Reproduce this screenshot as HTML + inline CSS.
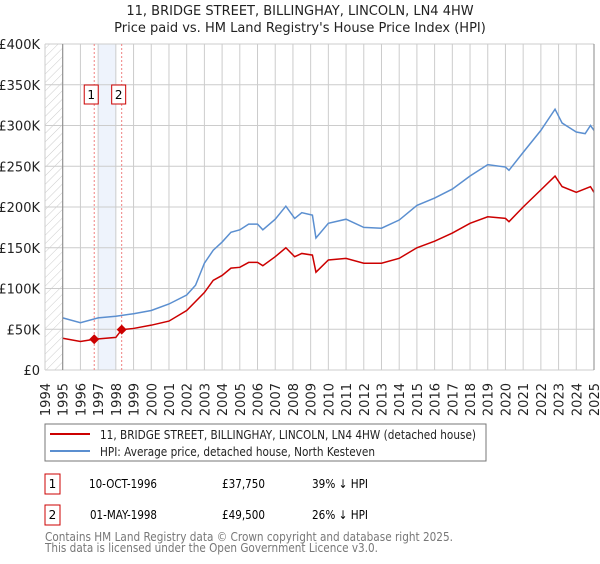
<!DOCTYPE html>
<html><head><meta charset="utf-8"><style>
body{margin:0;background:#fff;width:600px;height:560px;overflow:hidden;font-family:"DejaVu Sans","Liberation Sans",sans-serif}
svg text{font-family:"DejaVu Sans","Liberation Sans",sans-serif}
</style></head><body>
<svg id="c" width="600" height="560" xmlns="http://www.w3.org/2000/svg">
<defs><pattern id="hatch" width="6" height="6" patternUnits="userSpaceOnUse" patternTransform="rotate(45)"><line x1="0" y1="0" x2="0" y2="6" stroke="#ccc" stroke-width="1"/></pattern></defs>
<text x="300" y="15" text-anchor="middle" font-size="13" fill="#222">11, BRIDGE STREET, BILLINGHAY, LINCOLN, LN4 4HW</text>
<text x="300" y="32" text-anchor="middle" font-size="13" fill="#222">Price paid vs. HM Land Registry's House Price Index (HPI)</text>
<g id="grid"></g><g id="marks"></g><g id="axes"></g>
<rect x="45" y="424" width="441" height="37" fill="#fff" stroke="#777"/>
<line x1="50" y1="434" x2="90" y2="434" stroke="#cc0000" stroke-width="2"/>
<text x="100" y="439" font-size="12" textLength="376" lengthAdjust="spacingAndGlyphs" fill="#222">11, BRIDGE STREET, BILLINGHAY, LINCOLN, LN4 4HW (detached house)</text>
<line x1="50" y1="451" x2="90" y2="451" stroke="#5b8fd0" stroke-width="2"/>
<text x="100" y="456" font-size="12" textLength="275" lengthAdjust="spacingAndGlyphs" fill="#222">HPI: Average price, detached house, North Kesteven</text>
<rect x="45" y="474" width="15" height="20" fill="#fff" stroke="#cc0000"/>
<text x="52.5" y="488" text-anchor="middle" font-size="12">1</text>
<text x="89" y="488" font-size="12" textLength="68" lengthAdjust="spacingAndGlyphs">10-OCT-1996</text>
<text x="222" y="488" font-size="12" textLength="43" lengthAdjust="spacingAndGlyphs">£37,750</text>
<text x="312" y="488" font-size="12" textLength="56" lengthAdjust="spacingAndGlyphs">39% ↓ HPI</text>
<rect x="45" y="505" width="15" height="20" fill="#fff" stroke="#cc0000"/>
<text x="52.5" y="519" text-anchor="middle" font-size="12">2</text>
<text x="90" y="519" font-size="12" textLength="67" lengthAdjust="spacingAndGlyphs">01-MAY-1998</text>
<text x="222" y="519" font-size="12" textLength="43" lengthAdjust="spacingAndGlyphs">£49,500</text>
<text x="312" y="519" font-size="12" textLength="56" lengthAdjust="spacingAndGlyphs">26% ↓ HPI</text>
<text x="45" y="541" font-size="12" textLength="408" lengthAdjust="spacingAndGlyphs" fill="#777">Contains HM Land Registry data © Crown copyright and database right 2025.</text>
<text x="45" y="552" font-size="12" textLength="333" lengthAdjust="spacingAndGlyphs" fill="#777">This data is licensed under the Open Government Licence v3.0.</text>
</svg>
<script>
const hpiYears=[1995,1996,1997,1998,1999,2000,2001,2002,2002.5,2003,2003.5,2004,2004.5,2005,2005.5,2006,2006.3,2007,2007.6,2008.1,2008.5,2009.1,2009.3,2010,2011,2012,2013,2014,2015,2016,2017,2018,2019,2020,2020.2,2021,2022,2022.8,2023.2,2024,2024.5,2024.8,2025];
const hpiValues=[64,58,64,66,69,73,81,92,104,131,147,157,169,172,179,179,172,185,201,186,193,190,162,180,185,175,174,184,202,211,222,238,252,249,245,267,294,320,303,292,290,300,294];
const propYears=[1995,1996,1996.78,1998,1998.33,1999,2000,2001,2002,2003,2003.5,2004,2004.5,2005,2005.5,2006,2006.3,2007,2007.6,2008.1,2008.5,2009.1,2009.3,2010,2011,2012,2013,2014,2015,2016,2017,2018,2019,2020,2020.2,2021,2022,2022.8,2023.2,2024,2024.8,2025];
const propValues=[39,35,37.75,40,49.5,51,55,60,73,95,110,116,125,126,132,132,128,139,150,139,143,141,120,135,137,131,131,137,150,158,168,180,188,186,182,200,221,238,225,218,225,218];
const saleYears=[1996.78,1998.33];
const saleValues=[37.75,49.5];
const saleLabels=["1","2"];
const yTicks=[0,50,100,150,200,250,300,350,400];
const yTickLabels=["£0","£50K","£100K","£150K","£200K","£250K","£300K","£350K","£400K"];
const xTicks=[1994,1995,1996,1997,1998,1999,2000,2001,2002,2003,2004,2005,2006,2007,2008,2009,2010,2011,2012,2013,2014,2015,2016,2017,2018,2019,2020,2021,2022,2023,2024,2025];
const NS="http://www.w3.org/2000/svg";
const L=45,R=594,T=44,B=370;
const x=v=>L+(v-1994)/(2025-1994)*(R-L);
const y=v=>B-v/400*(B-T);
function mk(p,t,a){const e=document.createElementNS(NS,t);for(const k in a)e.setAttribute(k,a[k]);p.appendChild(e);return e;}
const g=document.getElementById('grid'),m=document.getElementById('marks'),ax=document.getElementById('axes');
const hz=mk(g,'rect',{x:L,y:T,width:x(1995)-L,height:B-T,fill:'url(#hatch)'});


const sh=mk(g,'rect',{x:x(1997),y:T,width:x(1998)-x(1997),height:B-T,fill:'#eef3fc'});


yTicks.forEach((v,i)=>{
 const l=mk(g,'line',{x1:L,x2:R,y1:y(v),y2:y(v),stroke:'#ccc'});
 
 
 const t=mk(ax,'text',{x:L-5,y:y(v)+5,'text-anchor':'end','font-size':'13',fill:'#222'});
 t.textContent=yTickLabels[i];
 
 
});
xTicks.forEach(v=>{
 const l=mk(g,'line',{x1:x(v),x2:x(v),y1:T,y2:B,stroke:'#ccc'});
 
 
 const t=mk(ax,'text',{x:0,y:0,'text-anchor':'end','font-size':'13',fill:'#222',transform:`translate(${x(v)+5},${B+13}) rotate(-90)`});
 t.textContent=v;
 
 
});
const a1=mk(ax,'line',{x1:x(1995),x2:x(1995),y1:T,y2:B,stroke:'#888'});


const a2=mk(ax,'line',{x1:R,x2:R,y1:T,y2:B,stroke:'#888'});


saleYears.forEach((v,i)=>{
 const l=mk(m,'line',{x1:x(v),x2:x(v),y1:T,y2:B,stroke:'#f08080','stroke-dasharray':'2,2'});
 
 
 const r=mk(m,'rect',{x:x(v)-10,y:85,width:14,height:19,fill:'#fff',stroke:'#cc0000'});
 
 
 const t=mk(m,'text',{x:x(v)-3,y:99,'text-anchor':'middle','font-size':'12'});
 t.textContent=saleLabels[i];
 
 
});
const hp=mk(m,'polyline',{points:hpiYears.map((v,i)=>x(v)+','+y(hpiValues[i])).join(' '),fill:'none',stroke:'#5b8fd0','stroke-width':1.5});


const pp=mk(m,'polyline',{points:propYears.map((v,i)=>x(v)+','+y(propValues[i])).join(' '),fill:'none',stroke:'#cc0000','stroke-width':1.5});


saleYears.forEach((v,i)=>{
 const cx=x(v),cy=y(saleValues[i]);
 const d=mk(m,'polygon',{points:`${cx},${cy-5} ${cx+5},${cy} ${cx},${cy+5} ${cx-5},${cy}`,fill:'#cc0000'});
 
 
});
</script>
</body></html>
